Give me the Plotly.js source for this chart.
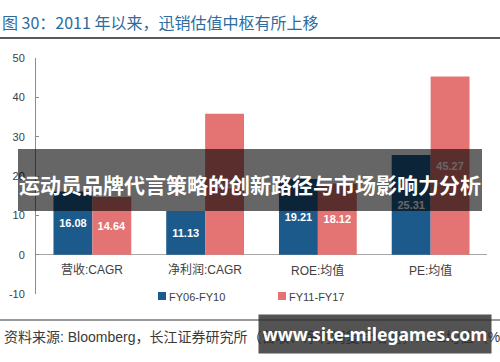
<!DOCTYPE html>
<html>
<head>
<meta charset="utf-8">
<script src="https://cdn.plot.ly/plotly-3.0.1.min.js"></script>
<style>html,body{margin:0;padding:0;background:#fff;}#chart{width:500px;height:362px;}</style>
</head>
<body>
<div id="chart"></div>
<script>
const categories = ['营收:CAGR', '净利润:CAGR', 'ROE:均值', 'PE:均值'];
const seriesNames = ['FY06-FY10', 'FY11-FY17'];
const fy06_10 = [16.08, 11.13, 19.21, 25.31];
const fy11_17 = [14.64, 35.85, 18.12, 45.27];
const yTicks = [-10, 0, 10, 20, 30, 40, 50];
const titleText = '图 30：2011 年以来，迅销估值中枢有所上移';
const sourceText = '资料来源: Bloomberg，长江证券研究所（营收、净利润复合增速，ROE均值（%）';
const bannerText = '运动员品牌代言策略的创新路径与市场影响力分析';
const watermarkText = 'www.site-milegames.com';

const FONT = 'Liberation Sans, Arial, Noto Sans CJK SC, sans-serif';
const COLORS = ['#1c5a8b', '#e47373'];

// plot area in pixels (for placing page furniture outside the axes)
const PL = 36, PW = 451, PB = 294, PH = 236;
const px = v => (v - PL) / PW;
const py = v => (PB - v) / PH;

function barTrace(name, vals, color) {
  return {
    type: 'bar', name: name, x: categories, y: vals,
    marker: {color: color, line: {width: 0}},
    text: vals.map(v => v.toFixed(2)),
    textposition: 'inside', insidetextanchor: 'middle', textangle: 0,
    constraintext: 'none',
    textfont: {family: FONT, size: 11, color: '#ffffff', weight: 'bold'},
    hoverinfo: 'none', showlegend: false
  };
}

const data = [barTrace(seriesNames[0], fy06_10, COLORS[0]), barTrace(seriesNames[1], fy11_17, COLORS[1])];

const catAnnotations = categories.map(c => ({
  x: c, y: 0, xref: 'x', yref: 'y', yanchor: 'top', yshift: -6,
  text: c, showarrow: false, font: {family: FONT, size: 12, color: '#404040'}
}));

// legend (square + label), matching the reference's compact legend
const legendX = [158, 278];
const legendShapes = seriesNames.map((n, i) => ({
  type: 'rect', xref: 'paper', yref: 'paper',
  x0: px(legendX[i]), x1: px(legendX[i] + 8), y0: py(292), y1: py(300),
  fillcolor: COLORS[i], line: {width: 0}
}));
const legendAnnotations = seriesNames.map((n, i) => ({
  xref: 'paper', yref: 'paper', x: px(legendX[i] + 9), y: py(296.5),
  xanchor: 'left', yanchor: 'middle', showarrow: false, text: n,
  font: {family: FONT, size: 11, color: '#404040'}
}));

const layout = {
  width: 500, height: 362,
  margin: {l: 36, r: 13, t: 58, b: 68, pad: 0},
  paper_bgcolor: '#ffffff', plot_bgcolor: '#ffffff',
  font: {family: FONT, color: '#404040'},
  title: {
    text: titleText, x: 0.004, xanchor: 'left', xref: 'container',
    y: 1 - 23 / 362, yref: 'container', yanchor: 'middle',
    font: {family: 'Noto Sans CJK SC, sans-serif', size: 16, color: '#2d6d9e'}
  },
  barmode: 'group', bargap: 0.31, bargroupgap: 0,
  showlegend: false,
  xaxis: {
    type: 'category', range: [-0.5, 3.5], showticklabels: false,
    showline: false, ticks: '', showgrid: false, zeroline: false, fixedrange: true
  },
  yaxis: {
    range: [-10, 50], tickvals: yTicks, ticktext: yTicks.map(String),
    showline: true, linecolor: '#8c8c8c', linewidth: 1,
    ticks: 'inside', ticklen: 3, tickcolor: '#8c8c8c', tickwidth: 1,
    ticklabelstandoff: 8,
    tickfont: {family: FONT, size: 11, color: '#404040'},
    showgrid: false, zeroline: true, zerolinecolor: '#a6a6a6', zerolinewidth: 1,
    fixedrange: true
  },
  shapes: [
    {type: 'line', xref: 'paper', yref: 'paper', x0: px(0), x1: px(500),
     y0: py(38), y1: py(38), line: {color: '#222222', width: 1.5}},
    {type: 'line', xref: 'paper', yref: 'paper', x0: px(0), x1: px(500),
     y0: py(320), y1: py(320), line: {color: '#333333', width: 1}},
    {type: 'rect', layer: 'above', xref: 'paper', yref: 'paper',
     x0: px(18), x1: px(482), y0: py(149), y1: py(211),
     fillcolor: 'rgba(0,0,0,0.6)', line: {width: 0}}
  ].concat(legendShapes),
  annotations: catAnnotations.concat(legendAnnotations, [
    {xref: 'paper', yref: 'paper', x: px(250), y: py(184),
     xanchor: 'center', yanchor: 'middle', showarrow: false, text: bannerText,
     font: {family: 'Noto Sans CJK SC, sans-serif', size: 21, color: '#ffffff', weight: 'bold'}},
    {xref: 'paper', yref: 'paper', x: px(2), y: py(337),
     xanchor: 'left', yanchor: 'middle', showarrow: false, text: sourceText,
     font: {family: 'Liberation Sans, Noto Sans CJK SC, sans-serif', size: 14, color: '#3a3a3a'}},
    {xref: 'paper', yref: 'paper', x: px(375), y: py(334),
     xanchor: 'center', yanchor: 'middle', showarrow: false, text: watermarkText,
     width: 232, height: 38, borderpad: 0, bgcolor: 'rgba(45,45,45,0.82)',
     font: {family: 'Noto Sans, sans-serif', size: 17.5, color: '#ffffff', weight: 'bold'}}
  ])
};

Plotly.newPlot('chart', data, layout, {displayModeBar: false, staticPlot: true});
</script>
</body>
</html>
